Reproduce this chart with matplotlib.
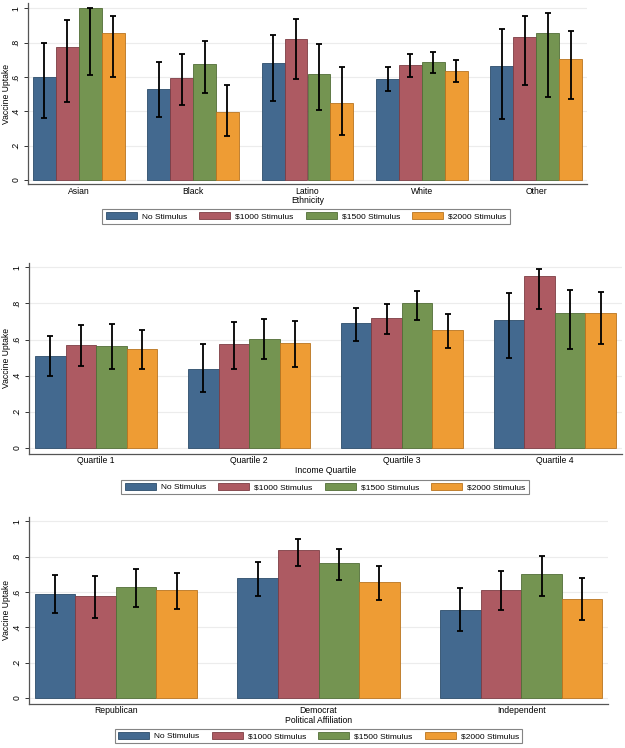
import matplotlib
matplotlib.use("Agg")
import matplotlib.pyplot as plt
import numpy as np
from matplotlib.patches import Patch

plt.rcParams['font.family'] = ['Liberation Sans', 'DejaVu Sans']

series = ["No Stimulus", "$1000 Stimulus", "$1500 Stimulus", "$2000 Stimulus"]
colors = ["#43698f", "#ad5a62", "#749451", "#ee9c34"]
edges = ["#2d4d6b", "#7d3d44", "#526d37", "#b97420"]

# Panel 1: Ethnicity
eth_cats = ["Asian", "Black", "Latino", "White", "Other"]
eth_val = [[0.600, 0.530, 0.683, 0.588, 0.664],
           [0.775, 0.594, 0.823, 0.668, 0.831],
           [1.000, 0.676, 0.619, 0.687, 0.856],
           [0.857, 0.396, 0.448, 0.637, 0.705]]
eth_hi = [[0.800, 0.690, 0.846, 0.658, 0.879],
          [0.934, 0.736, 0.940, 0.734, 0.953],
          [1.000, 0.808, 0.794, 0.747, 0.975],
          [0.957, 0.553, 0.660, 0.699, 0.868]]
eth_lo = [[0.360, 0.365, 0.462, 0.520, 0.355],
          [0.455, 0.435, 0.588, 0.600, 0.551],
          [0.610, 0.508, 0.410, 0.621, 0.485],
          [0.600, 0.256, 0.260, 0.569, 0.470]]

# Panel 2: Income Quartile
inc_cats = ["Quartile 1", "Quartile 2", "Quartile 3", "Quartile 4"]
inc_val = [[0.509, 0.439, 0.692, 0.710],
           [0.570, 0.574, 0.719, 0.950],
           [0.564, 0.605, 0.802, 0.747],
           [0.548, 0.581, 0.653, 0.749]]
inc_hi = [[0.620, 0.574, 0.777, 0.860],
          [0.682, 0.699, 0.795, 0.989],
          [0.686, 0.714, 0.869, 0.876],
          [0.653, 0.705, 0.743, 0.865]]
inc_lo = [[0.398, 0.310, 0.594, 0.498],
          [0.452, 0.439, 0.629, 0.769],
          [0.439, 0.491, 0.710, 0.548],
          [0.439, 0.448, 0.553, 0.576]]

# Panel 3: Political Affiliation
pol_cats = ["Republican", "Democrat", "Independent"]
pol_val = [[0.590, 0.679, 0.500],
           [0.577, 0.838, 0.613],
           [0.628, 0.766, 0.704],
           [0.609, 0.658, 0.562]]
pol_hi = [[0.698, 0.770, 0.621],
          [0.692, 0.902, 0.717],
          [0.730, 0.841, 0.805],
          [0.708, 0.749, 0.681]]
pol_lo = [[0.479, 0.577, 0.379],
          [0.455, 0.747, 0.500],
          [0.513, 0.668, 0.579],
          [0.504, 0.555, 0.440]]

yticks = [0, 0.2, 0.4, 0.6, 0.8, 1.0]
ytick_labels = ["0", ".2", ".4", ".6", ".8", "1"]

W, H = 625, 748
fig = plt.figure(figsize=(W / 100, H / 100), dpi=100)

panels = [
    (eth_cats, eth_val, eth_hi, eth_lo, "Ethnicity", (28, 587, 3, 184), (-0.0233, 1.031), 0.044, (306, 216.5)),
    (inc_cats, inc_val, inc_hi, inc_lo, "Income Quartile", (29, 622, 263, 453.7), (-0.0315, 1.024), 0.040, (325, 487)),
    (pol_cats, pol_val, pol_hi, pol_lo, "Political Affiliation", (29, 608, 517, 703.7), (-0.032, 1.024), 0.028, (318.5, 736)),
]

FS = 6.2
bw = 0.2
for cats, val, hi, lo, xlab, (l, r, t, b), ylim, xm, (lx, ly) in panels:
    ax = fig.add_axes([l / W, 1 - b / H, (r - l) / W, (b - t) / H])
    x = np.arange(len(cats))
    for i in range(4):
        xs = x + (i - 1.5) * bw
        v = np.array(val[i]); h = np.array(hi[i]); lw_ = np.array(lo[i])
        ax.bar(xs, v, width=bw, color=colors[i], edgecolor=edges[i], linewidth=0.6, zorder=2)
        ax.errorbar(xs, v, yerr=[v - lw_, h - v], fmt='none', ecolor='black',
                    elinewidth=1.3, capsize=2.3, capthick=1.3, zorder=3)
    ax.set_xlim(-0.4 - xm, len(cats) - 0.6 + xm)
    ax.set_ylim(*ylim)
    ax.set_yticks(yticks)
    ax.set_yticklabels(ytick_labels, rotation=90, va='center', fontsize=FS)
    ax.set_xticks(x)
    ax.set_xticklabels(cats, fontsize=FS)
    ax.tick_params(axis='x', length=0, pad=2)
    ax.tick_params(axis='y', length=3.2, width=0.7, pad=2.3, color='#333333')
    for yv in yticks:
        ax.axhline(yv, color='#ececec', linewidth=0.8, zorder=0)
    for s in ['top', 'right']:
        ax.spines[s].set_visible(False)
    for s in ['left', 'bottom']:
        ax.spines[s].set_color('#555555')
        ax.spines[s].set_linewidth(0.9)
    ax.set_ylabel("Vaccine Uptake", fontsize=FS, va='center')
    ax.yaxis.set_label_coords((6.5 - l) / (r - l), 0.5)
    ax.set_xlabel(xlab, fontsize=FS, labelpad=0.5)
    handles = [Patch(facecolor=colors[i], edgecolor=edges[i], linewidth=0.6, label=series[i]) for i in range(4)]
    leg = fig.legend(handles=handles, loc='center', bbox_to_anchor=(lx / W, 1 - ly / H),
                     ncol=4, fontsize=6, frameon=True, fancybox=False, handlelength=3.7,
                     handleheight=0.85, columnspacing=1.5, handletextpad=0.6,
                     borderpad=0.4, borderaxespad=0)
    leg.get_frame().set_edgecolor('#666666')
    leg.get_frame().set_linewidth(0.8)

fig.savefig("out.png", dpi=100)
